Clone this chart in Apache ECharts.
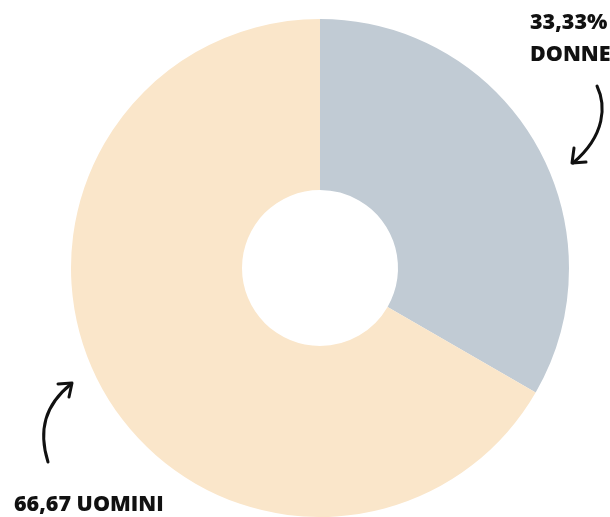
<!DOCTYPE html>
<html>
<head>
<meta charset="utf-8">
<script src="https://cdn.jsdelivr.net/npm/echarts@6/dist/echarts.min.js"></script>
<style>
  html, body { margin: 0; padding: 0; background: #fff; }
  #main { width: 610px; height: 517px; }
</style>
</head>
<body>
<div id="main"></div>
<script>
var categories = ["DONNE", "UOMINI"];
var values = [33.33, 66.67];
var labelTexts = ["33,33%\nDONNE", "66,67 UOMINI"];
var colors = ["#c1cbd4", "#fae6ca"];

var chart = echarts.init(document.getElementById("main"));

// where each label sits (top right / bottom left)
var labelPos = [
  { x: 530, y: 7 },
  { x: 14, y: 489 }
];

var arrowStyle = { stroke: "#111", lineWidth: 3, fill: null, lineCap: "round", lineJoin: "round" };

chart.setOption({
  animation: false,
  series: [
    {
      type: "pie",
      center: [320, 268],
      radius: [78, 249],
      startAngle: 90,
      clockwise: true,
      silent: true,
      data: categories.map(function (c, i) {
        return { name: c, value: values[i], itemStyle: { color: colors[i] } };
      }),
      label: {
        show: true,
        position: "outside",
        overflow: "none",
        formatter: function (p) { return labelTexts[p.dataIndex]; },
        fontFamily: "Open Sans",
        fontWeight: 800,
        fontSize: 21.5,
        lineHeight: 32,
        color: "#111"
      },
      labelLine: { show: false },
      labelLayout: function (p) {
        var pos = labelPos[p.dataIndex];
        return { x: pos.x, y: pos.y, align: "left", verticalAlign: "top" };
      }
    }
  ],
  graphic: [
    {
      type: "bezierCurve",
      shape: { x1: 597, y1: 86, cpx1: 606, cpy1: 105, cpx2: 606, cpy2: 135, x2: 573, y2: 163 },
      style: arrowStyle
    },
    {
      type: "polyline",
      shape: { points: [[574, 148], [572, 163], [586, 162]] },
      style: arrowStyle
    },
    {
      type: "bezierCurve",
      shape: { x1: 48, y1: 462, cpx1: 38, cpy1: 430, cpx2: 45, cpy2: 405, x2: 71, y2: 384 },
      style: arrowStyle
    },
    {
      type: "polyline",
      shape: { points: [[58, 384], [72, 383], [69, 397]] },
      style: arrowStyle
    }
  ]
});
</script>
</body>
</html>
